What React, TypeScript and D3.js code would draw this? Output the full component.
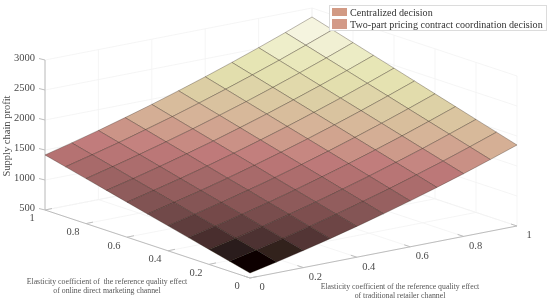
import React from "react";
import * as d3 from "d3";

const gridSteps = [0, 0.1, 0.2, 0.3, 0.4, 0.5, 0.6, 0.7, 0.8, 0.9, 1];
// rows: online channel coefficient (0..1); columns: retailer channel coefficient (0..1)
const profit = [
  [583, 681, 785, 896, 1013, 1137, 1266, 1403, 1545, 1695, 1850],
  [666, 766, 872, 984, 1103, 1229, 1359, 1498, 1642, 1793, 1950],
  [750, 851, 958, 1073, 1193, 1320, 1453, 1593, 1738, 1892, 2050],
  [833, 936, 1045, 1161, 1283, 1412, 1546, 1688, 1835, 1990, 2150],
  [917, 1021, 1132, 1250, 1373, 1504, 1640, 1783, 1932, 2088, 2250],
  [1000, 1107, 1218, 1338, 1463, 1596, 1733, 1878, 2029, 2187, 2350],
  [1083, 1192, 1305, 1426, 1553, 1687, 1826, 1973, 2125, 2285, 2450],
  [1167, 1277, 1392, 1515, 1643, 1779, 1920, 2068, 2222, 2383, 2550],
  [1250, 1362, 1479, 1603, 1733, 1871, 2013, 2163, 2319, 2481, 2650],
  [1334, 1447, 1565, 1692, 1823, 1962, 2107, 2258, 2415, 2580, 2750],
  [1417, 1532, 1652, 1780, 1913, 2054, 2200, 2353, 2512, 2678, 2850],
];
const zTicks = [500, 1000, 1500, 2000, 2500, 3000];
const xyTicks = [0, 0.2, 0.4, 0.6, 0.8, 1];
const tickText = ["0", "0.2", "0.4", "0.6", "0.8", "1"];
const legendItems = ["Centralized decision", "Two-part pricing contract coordination decision"];
const legendColors = ["#d29a84", "#d39a88"];
const colorStops = [583, 681, 770, 880, 1030, 1334, 1450, 1565, 1700, 1830, 1970, 2120, 2280, 2420, 2580];
const colorValues = ["#070000", "#33201f", "#4f3232", "#6a4343", "#875656", "#b57272", "#c17c7c", "#cb9487", "#d5b096", "#d8bd9c", "#dccfa5", "#e3dfae", "#e7e6b5", "#eeeecb", "#f5f4df"];

const color = d3.scaleLinear<string>().domain(colorStops).range(colorValues).interpolate(d3.interpolateRgb);
// oblique projection: each data axis contributes a screen offset
const xDx = d3.scaleLinear().domain([0, 1]).range([0, 267]);
const xDy = d3.scaleLinear().domain([0, 1]).range([0, -52]);
const yDx = d3.scaleLinear().domain([0, 1]).range([0, -205]);
const yDy = d3.scaleLinear().domain([0, 1]).range([0, -68]);
const zDy = d3.scaleLinear().domain([500, 3000]).range([0, -150]);
const O = [250, 278];
const P = (x: number, y: number, z: number): [number, number] => [
  O[0] + xDx(x) + yDx(y),
  O[1] + xDy(x) + yDy(y) + zDy(z),
];
const line = d3.line();
const font = "'Liberation Serif','Times New Roman',serif";

export default function App() {
  const cells: { d: string; c: string; k: number }[] = [];
  for (let j = 0; j < 10; j++)
    for (let i = 0; i < 10; i++) {
      const a = gridSteps[i], b = gridSteps[i + 1], u = gridSteps[j], v = gridSteps[j + 1];
      cells.push({
        d: line([P(a, u, profit[j][i]), P(b, u, profit[j][i + 1]), P(b, v, profit[j + 1][i + 1]), P(a, v, profit[j + 1][i])])! + "Z",
        c: color(profit[j][i]),
        k: i + j,
      });
    }
  cells.sort((p, q) => q.k - p.k);
  const wall = "#f3f3f3";
  const axisC = "#bdbdbd";
  return (
    <svg width={550} height={303} style={{ position: "absolute", left: 0, top: 0, background: "#fff" }} fontFamily={font}>
      <defs>
        <filter id="soft" x="-5%" y="-5%" width="110%" height="110%">
          <feGaussianBlur stdDeviation="0.4" />
        </filter>
      </defs>
      <g filter="url(#soft)">
        <g fill="none" stroke={wall} strokeWidth={0.8}>
          {zTicks.map((z) => (
            <g key={z}>
              <path d={line([P(0, 1, z), P(1, 1, z), P(1, 0, z)])!} />
            </g>
          ))}
          {xyTicks.map((t) => (
            <g key={t}>
              <path d={line([P(t, 1, 500), P(t, 1, 3000)])!} />
              <path d={line([P(1, t, 500), P(1, t, 3000)])!} />
              <path d={line([P(t, 0, 500), P(t, 1, 500)])!} />
              <path d={line([P(0, t, 500), P(1, t, 500)])!} />
            </g>
          ))}
        </g>
        <g fill="none" stroke={axisC} strokeWidth={1}>
          <path d={line([P(0, 1, 3000), P(0, 1, 500), P(0, 0, 500), P(1, 0, 500)])!} />
          {zTicks.map((z) => {
            const p = P(0, 1, z);
            return <path key={z} d={line([p, [p[0] - 6, p[1] - 1.5]])!} />;
          })}
          {xyTicks.map((t) => {
            const p = P(t, 0, 500), q = P(0, t, 500);
            return (
              <g key={t}>
                <path d={line([p, [p[0] - 6, p[1] - 2]])!} />
                <path d={line([q, [q[0] + 7, q[1] - 1.5]])!} />
              </g>
            );
          })}
        </g>
        {cells.map((c, i) => (
          <path key={i} d={c.d} fill={c.c} stroke="#2a1c14" strokeOpacity={0.45} strokeWidth={0.7} strokeLinejoin="round" />
        ))}
        <g fill="#4a4a4a" fontSize={10.5}>
          {zTicks.map((z) => {
            const p = P(0, 1, z);
            return (
              <text key={z} x={35} y={p[1] - 1} dominantBaseline="middle" textAnchor="end">
                {z}
              </text>
            );
          })}
          {xyTicks.map((t, i) => {
            const p = P(t, 0, 500), q = P(0, t, 500);
            return (
              <g key={t} textAnchor="middle" dominantBaseline="middle">
                <text x={p[0] + 12} y={p[1] + 10}>{tickText[i]}</text>
                <text x={q[0] - 13} y={q[1] + 9}>{tickText[i]}</text>
              </g>
            );
          })}
          <text transform="translate(8,136) rotate(-90)" textAnchor="middle" dominantBaseline="middle" fontSize={10.5}>
            Supply chain profit
          </text>
        </g>
        <g fill="#555" fontSize={7.8} textAnchor="middle">
          <text x={107} y={283.5} xmlSpace="preserve">Elasticity coefficient of  the reference quality effect</text>
          <text x={107} y={292.5}>of online direct marketing channel</text>
          <text x={400} y={288.5}>Elasticity coefficient of the reference quality effect</text>
          <text x={400} y={297.5}>of traditional retailer channel</text>
        </g>
        <rect x={329.5} y={5.5} width={217} height={25} fill="#fff" stroke="#dcdcdc" strokeWidth={1} />
        {legendItems.map((s, i) => (
          <g key={s}>
            <rect x={332} y={8 + i * 11} width={15} height={i === 0 ? 8 : 10} fill={legendColors[i]} />
            <text x={350} y={16 + i * 12} fontSize={10.1} fill="#333">{s}</text>
          </g>
        ))}
      </g>
    </svg>
  );
}
